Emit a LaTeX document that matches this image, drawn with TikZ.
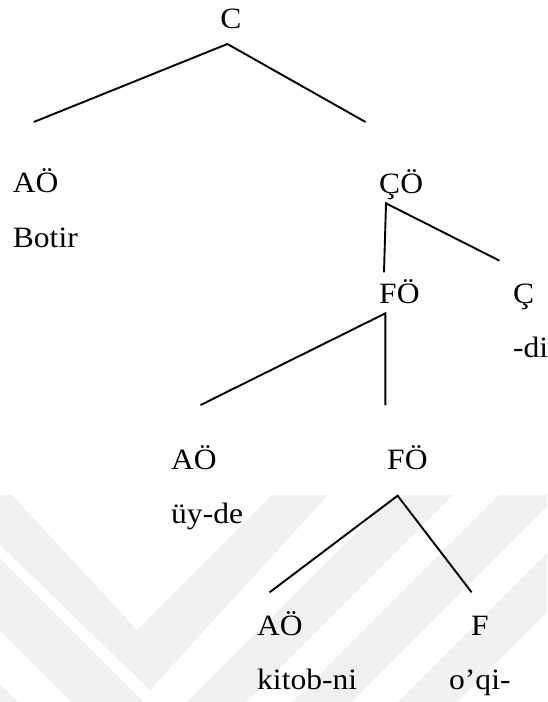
\documentclass[tikz,border=0pt]{standalone}
\usepackage{fontspec}
\setmainfont{Liberation Serif}[FakeStretch=1.07]
\begin{document}
\begin{tikzpicture}[x=1pt,y=-1pt,
  lbl/.style={inner sep=0pt,anchor=base west,font=\fontsize{29.5}{34}\selectfont},
  edge/.style={line width=1.9pt,line cap=butt,line join=miter},
  wm/.style={fill=black!6,draw=none}]
\useasboundingbox (0,0) rectangle (547,702);
% faint watermark
\begin{scope}
\clip (0,495) rectangle (547,702);
\fill[wm] (0,495) -- (12,495) -- (137,630) -- (272,495) -- (328,495) -- (150,690) -- (0,545) -- cycle;
\fill[wm] (0,558) -- (144,702) -- (72,702) -- (0,630) -- cycle;
\fill[wm] (0,684) -- (18,702) -- (0,702) -- cycle;
\fill[wm] (394,495) -- (453,495) -- (246,702) -- (187,702) -- cycle;
\fill[wm] (499,495) -- (558,495) -- (351,702) -- (292,702) -- cycle;
\fill[wm] (605,495) -- (664,495) -- (457,702) -- (398,702) -- cycle;
\end{scope}
% labels
\node[lbl,anchor=base] (C) at (231,28.3) {C};
\node[lbl] (AO1) at (12.7,192.5) {AÖ};
\node[lbl] (Botir) at (12.7,247.5) {Botir};
\node[lbl] (CO) at (379,193) {ÇÖ};
\node[lbl] (FO1) at (379,303.3) {FÖ};
\node[lbl] (Cc) at (513,303.3) {Ç};
\node[lbl] (di) at (513,357) {-di};
\node[lbl] (AO2) at (171,469) {AÖ};
\node[lbl] (uyde) at (171,523.3) {üy-de};
\node[lbl] (FO2) at (387,469) {FÖ};
\node[lbl] (AO3) at (257,635) {AÖ};
\node[lbl] (F) at (471,635) {F};
\node[lbl] (kitob) at (257,689) {kitob-ni};
\node[lbl] (oqi) at (449,689) {o’qi-};
% branch points
\coordinate (pC) at (227.4,44);
\coordinate (eAO1) at (33.8,122);
\coordinate (eCO) at (365.5,122);
\coordinate (pCO) at (386,203.3);
\coordinate (eFO1) at (384,272.3);
\coordinate (eCc) at (499.5,260.7);
\coordinate (pFO1) at (385.4,313.3);
\coordinate (eAO2) at (200.6,405);
\coordinate (eFO2) at (385.4,405);
\coordinate (pFO2) at (397.6,495.7);
\coordinate (eAO3) at (269.6,592.3);
\coordinate (eF) at (471.6,592.3);
% connectors
\draw[edge] (eAO1) -- (pC) -- (eCO);
\draw[edge] (eFO1) -- (pCO) -- (eCc);
\draw[edge] (eAO2) -- (pFO1) -- (eFO2);
\draw[edge] (eAO3) -- (pFO2) -- (eF);
\end{tikzpicture}
\end{document}
